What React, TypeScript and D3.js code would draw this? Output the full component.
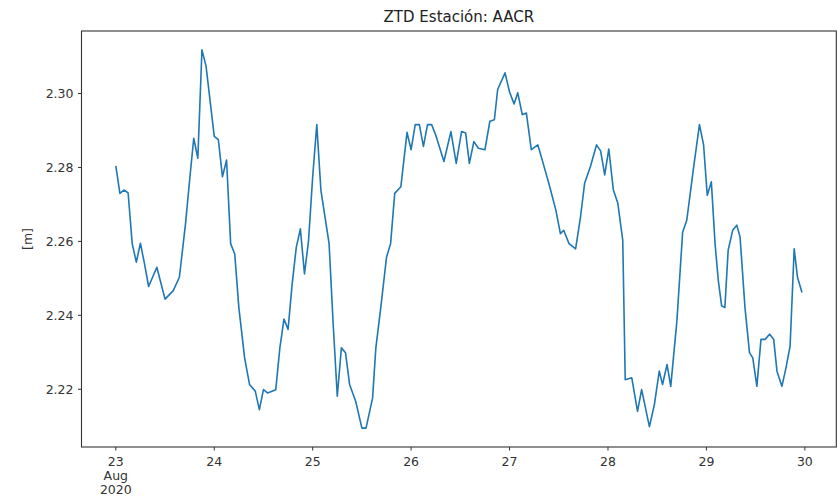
import React from "react";
import * as d3 from "d3";

// Hours since 2020-08-23 00:00 UTC
const hours = [
  0, 1, 2, 3, 4, 5, 6, 7, 8, 10, 12, 14, 15.5, 17, 18, 19, 20, 21, 22, 24,
  25, 26, 27, 28, 29, 30, 31.4, 32.6, 34, 35, 36, 37, 39, 40, 41, 42, 43, 44, 45, 46,
  47, 48, 49, 50, 52, 53, 54, 55, 56, 57, 58.5, 60, 61, 62.6, 63.4, 64.6, 66, 67, 68, 69.5,
  71, 72, 73, 74, 75, 76, 77, 78, 80, 81.7, 83, 84.3, 85.3, 86.2, 87.3, 88.4, 90, 91.2, 92.3, 93.1,
  94.9, 96, 97.1, 98, 99.1, 100.1, 101.3, 102.9, 104.2, 105.8, 107.3, 108.4, 109.2, 110.5, 112.1, 113.3, 114.3, 115.7, 117.2, 118.2,
  119.2, 120.2, 121.3, 122.4, 123.6, 124.2, 125.8, 127.2, 128.2, 130.1, 131.3, 132.5, 133.3, 134.4, 135.3, 136.8, 138.2, 139.2, 140.9, 142.3,
  143.3, 144.2, 145.2, 146.1, 146.9, 147.7, 148.5, 149.3, 150.4, 151.4, 152.2, 153.4, 154.5, 155.3, 156.3, 157.3, 158.3, 159.4, 160.4, 161.2,
  162.4, 163.4, 164.4, 165.4, 166.2, 167.3,
];

const ztd = [
  2.2804, 2.273, 2.2739, 2.2731, 2.2594, 2.2544, 2.2595, 2.2539, 2.2478, 2.253, 2.2444, 2.2467, 2.2503, 2.2648, 2.2766, 2.2879, 2.2825, 2.3118, 2.3074, 2.2884,
  2.2875, 2.2775, 2.282, 2.2594, 2.2566, 2.2421, 2.2285, 2.2213, 2.2195, 2.2145, 2.2199, 2.219, 2.2199, 2.2312, 2.239, 2.2362, 2.2485, 2.2584, 2.2634, 2.2512,
  2.2603, 2.2775, 2.2916, 2.2739, 2.2594, 2.2376, 2.2181, 2.2312, 2.2299, 2.2213, 2.2167, 2.2095, 2.2095, 2.2176, 2.2312, 2.2421, 2.2557, 2.2594, 2.273, 2.2748,
  2.2895, 2.2848, 2.2916, 2.2916, 2.2857, 2.2916, 2.2916, 2.2888, 2.2816, 2.2897, 2.2811, 2.2897, 2.2893, 2.2811, 2.287, 2.2852, 2.2848, 2.2925, 2.2929, 2.3011,
  2.3056, 2.3004, 2.2972, 2.3002, 2.2943, 2.2947, 2.2848, 2.2861, 2.2811, 2.2748, 2.2684, 2.2621, 2.263, 2.2594, 2.258, 2.2666, 2.2757, 2.2802, 2.2861, 2.2845,
  2.278, 2.285, 2.274, 2.2703, 2.2603, 2.2226, 2.2231, 2.214, 2.2199, 2.2099, 2.2158, 2.2249, 2.2213, 2.2267, 2.2208, 2.2385, 2.2625, 2.2657, 2.2802, 2.2916,
  2.2862, 2.2725, 2.2761, 2.2594, 2.2494, 2.2426, 2.2421, 2.2576, 2.263, 2.2644, 2.2612, 2.2421, 2.2299, 2.2285, 2.2208, 2.2335, 2.2335, 2.2349, 2.2335, 2.2249,
  2.2208, 2.2258, 2.2317, 2.258, 2.2503, 2.2462,
];

const yTicks = [2.22, 2.24, 2.26, 2.28, 2.3];
const title = "ZTD Estación: AACR";
const yLabel = "[m]";
const monthLabel = "Aug";
const yearLabel = "2020";

const W = 838;
const H = 503;
const M = { left: 81.5, right: 1.7, top: 31, bottom: 56 };
const FONT = "DejaVu Sans, sans-serif";

export default function App() {
  const base = Date.UTC(2020, 7, 23);
  const data = hours.map((h, i) => ({ t: new Date(base + h * 3600e3), v: ztd[i] }));

  const [t0, t1] = d3.extent(data, (d) => d.t.getTime()) as [number, number];
  const xm = (t1 - t0) * 0.05;
  const x = d3
    .scaleUtc()
    .domain([new Date(t0 - xm), new Date(t1 + xm)])
    .range([M.left, W - M.right]);

  const [v0, v1] = d3.extent(data, (d) => d.v) as [number, number];
  const ym = (v1 - v0) * 0.05;
  const y = d3
    .scaleLinear()
    .domain([v0 - ym, v1 + ym])
    .range([H - M.bottom, M.top]);

  const line = d3
    .line<{ t: Date; v: number }>()
    .x((d) => x(d.t))
    .y((d) => y(d.v));

  const xTicks = d3.utcDay.range(new Date(t0), new Date(t1 + xm));
  const fmtDay = d3.utcFormat("%-d");

  const plotL = M.left;
  const plotR = W - M.right;
  const plotT = M.top;
  const plotB = H - M.bottom;

  return (
    <svg
      width={W}
      height={H}
      style={{ position: "absolute", left: 0, top: 0, background: "#fff" }}
      fontFamily={FONT}
    >
      <rect x={0} y={0} width={W} height={H} fill="#fff" />
      <path d={line(data) || ""} fill="none" stroke="#1f77b4" strokeWidth={1.6} strokeLinejoin="round" />
      <rect
        x={plotL}
        y={plotT}
        width={plotR - plotL}
        height={plotB - plotT}
        fill="none"
        stroke="#333"
        strokeWidth={1.1}
      />
      {yTicks.map((t) => (
        <g key={t}>
          <line x1={plotL - 3.5} x2={plotL} y1={y(t)} y2={y(t)} stroke="#333" strokeWidth={1} />
          <text x={plotL - 8} y={y(t)} dy="0.35em" textAnchor="end" fontSize={12.5} fill="#333">
            {t.toFixed(2)}
          </text>
        </g>
      ))}
      {xTicks.map((t, i) => (
        <g key={t.getTime()}>
          <line x1={x(t)} x2={x(t)} y1={plotB} y2={plotB + 3.5} stroke="#333" strokeWidth={1} />
          <text x={x(t)} y={plotB + 19} textAnchor="middle" fontSize={12.5} fill="#333">
            {fmtDay(t)}
          </text>
          {i === 0 && (
            <>
              <text x={x(t)} y={plotB + 33} textAnchor="middle" fontSize={12.5} fill="#333">
                {monthLabel}
              </text>
              <text x={x(t)} y={plotB + 47} textAnchor="middle" fontSize={12.5} fill="#333">
                {yearLabel}
              </text>
            </>
          )}
        </g>
      ))}
      <text
        transform={`translate(${32},${(plotT + plotB) / 2}) rotate(-90)`}
        textAnchor="middle"
        fontSize={12.5}
        fill="#333"
      >
        {yLabel}
      </text>
      <text x={(plotL + plotR) / 2} y={plotT - 9} textAnchor="middle" fontSize={15} fill="#222">
        {title}
      </text>
    </svg>
  );
}
